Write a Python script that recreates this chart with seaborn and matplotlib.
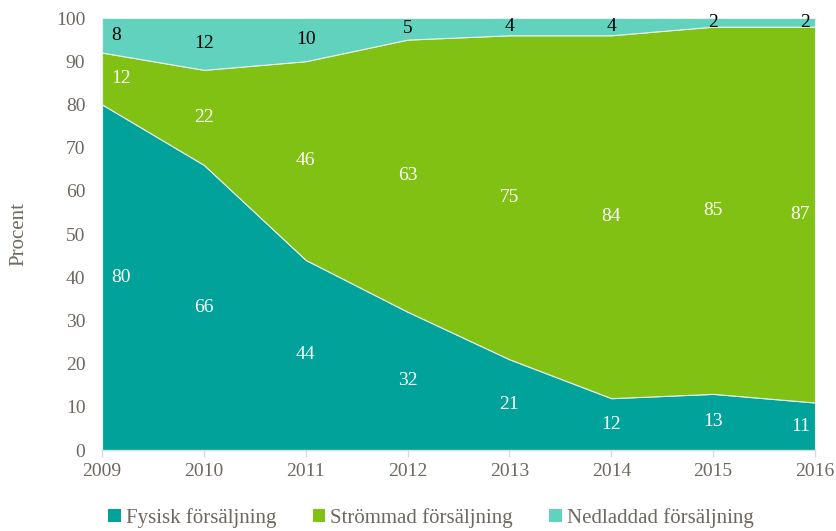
import numpy as np
import matplotlib
matplotlib.use("Agg")
import matplotlib.pyplot as plt
import seaborn as sns
from matplotlib.patches import Patch

years = [2009, 2010, 2011, 2012, 2013, 2014, 2015, 2016]
series_names = ["Fysisk försäljning", "Strömmad försäljning", "Nedladdad försäljning"]
fysisk = [80, 66, 44, 32, 21, 12, 13, 11]
strommad = [12, 22, 46, 63, 75, 84, 85, 87]
nedladdad = [8, 12, 10, 5, 4, 4, 2, 2]
y_ticks = [0, 10, 20, 30, 40, 50, 60, 70, 80, 90, 100]

sns.set_theme(style="white")
plt.rcParams["font.family"] = ["Liberation Serif", "DejaVu Serif"]

colors = ["#00A29A", "#80C113", "#60D2BE"]
label_colors = ["white", "white", "black"]
text_gray = "#6F6760"

fig = plt.figure(figsize=(8.37, 5.31), dpi=100)
ax = fig.add_axes([0.1219, 0.1525, 0.8518, 0.8136])

series = [fysisk, strommad, nedladdad]
ax.stackplot(years, *series, colors=colors, edgecolor="#E6F2EF", linewidth=0.8)

ax.set_xlim(years[0], years[-1])
ax.set_ylim(0, 100)
ax.set_xticks(years)
ax.set_xticklabels([str(y) for y in years])
ax.set_yticks(y_ticks)

for s in ["top", "right", "left"]:
    ax.spines[s].set_visible(False)
ax.spines["bottom"].set_color("#D9D9D9")
ax.spines["bottom"].set_linewidth(1.0)
ax.tick_params(axis="x", which="both", bottom=True, length=5, width=1.0,
               color="#D9D9D9", labelsize=14, labelcolor=text_gray, pad=4)
ax.tick_params(axis="y", left=False, length=0, labelsize=14, labelcolor=text_gray, pad=12)
ax.set_ylabel("Procent", fontsize=15, color=text_gray, labelpad=20)

# data labels at segment midpoints
base = np.zeros(len(years))
for vals, lc in zip(series, label_colors):
    vals = np.array(vals, dtype=float)
    mids = base + vals / 2
    for i, (x, m, v) in enumerate(zip(years, mids, vals)):
        if i == 0:
            xp, ha = x + 0.09, "left"
        elif i == len(years) - 1:
            xp, ha = x - 0.05, "right"
        else:
            xp, ha = x, "center"
        ax.text(xp, m, f"{int(v)}", ha=ha, va="center", fontsize=14, color=lc)
    base = base + vals

handles = [Patch(facecolor=c, edgecolor="none") for c in colors]
fig.legend(handles, series_names, loc="center", bbox_to_anchor=(0.515, 0.024),
           ncol=3, frameon=False, fontsize=15, labelcolor=text_gray,
           handlelength=0.6, handleheight=0.6, handletextpad=0.25, columnspacing=1.75)

fig.savefig("out.png", dpi=100)
